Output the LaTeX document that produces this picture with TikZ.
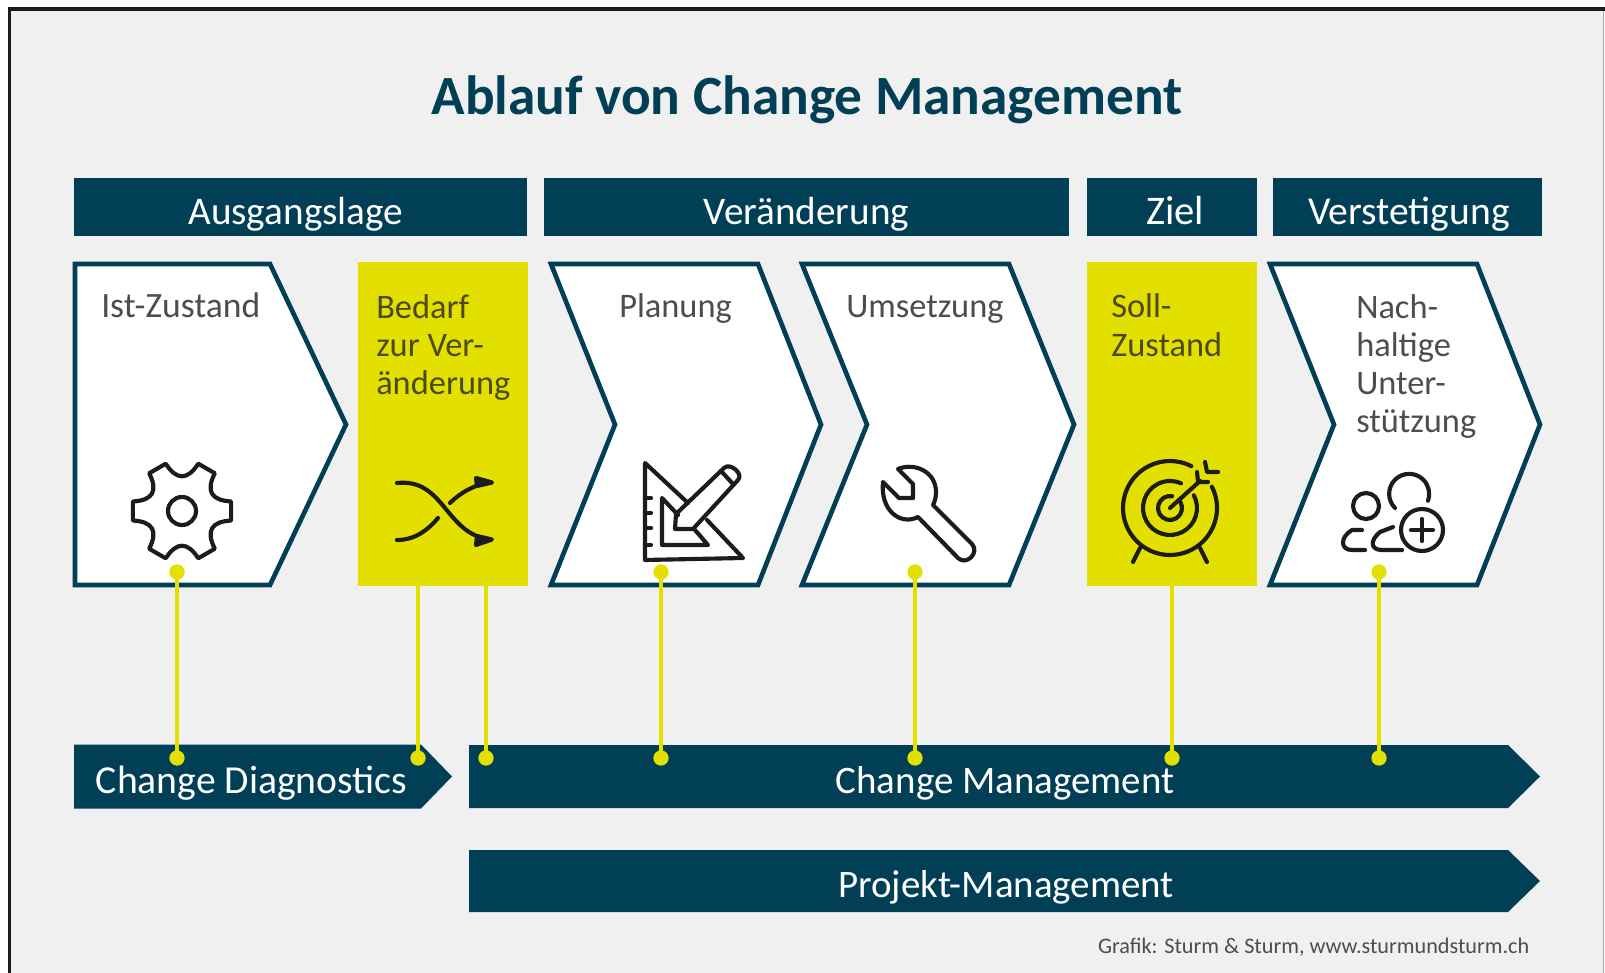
\documentclass[tikz,border=0pt]{standalone}
\usepackage{fontspec}
\setmainfont{Carlito}
\definecolor{navy}{HTML}{003F56}
\definecolor{lime}{HTML}{E3E000}
\definecolor{paper}{HTML}{F0F0F0}
\definecolor{ink}{HTML}{1C1C1C}
\definecolor{graytext}{HTML}{4D4D4D}
\definecolor{oliv}{HTML}{4A4A14}
\tikzset{
  x=0.75pt,y=-0.75pt,
  hdr/.style={fill=navy,text=white,inner sep=0pt,minimum height=43.5pt,text height=26.2pt,text depth=0pt,font=\fontsize{29.4}{29.4}\selectfont},
  chev/.style={draw=navy,fill=white,line width=3.5pt,miter limit=10},
  yel/.style={fill=lime,inner sep=0pt},
  bar/.style={fill=navy},
  lbl/.style={anchor=base west,inner sep=0pt,align=left,text=graytext,font=\fontsize{25.8}{28.5}\selectfont},
  lbly/.style={lbl,text=oliv},
  barlbl/.style={anchor=base,inner sep=0pt,text=white,font=\fontsize{29.2}{29.2}\selectfont},
  dot/.style={circle,fill=lime,inner sep=0pt,minimum size=11.5pt},
  link/.style={draw=lime,line width=2.8pt},
  icon/.style={draw=ink,line width=3.1pt,line cap=round,line join=round},
}
\begin{document}
\begin{tikzpicture}
\useasboundingbox (0,0) rectangle (1605,973);
\fill[white] (0,0) rectangle (1605,973);
\fill[paper] (10,10) rectangle (1603,973);
\fill[ink] (8,7) rectangle (1605,11);
\fill[ink] (8,7) rectangle (11,973);
\fill[gray!70] (1602.5,11) rectangle (1603.5,973);
% title
\node[anchor=base,inner sep=0pt,text=navy,font=\bfseries\fontsize{41.5}{41.5}\selectfont] (title) at (807,114.5) {Ablauf von Change Management};
% headers
\node[hdr,minimum width=339.75pt] (h1) at (300.5,207) {\hspace*{-7pt}Ausgangslage};
\node[hdr,minimum width=393.75pt] (h2) at (806.5,207) {Veränderung};
\node[hdr,minimum width=127.5pt,font=\fontsize{30.5}{30.5}\selectfont] (h3) at (1172,207) {\hspace*{4.5pt}Ziel};
\node[hdr,minimum width=201.75pt,font=\fontsize{29.7}{29.7}\selectfont] (h4) at (1407.5,207) {\hspace*{2pt}Verstetigung};
% process shapes
\draw[chev] (75,264) -- (270,264) -- (346,424.5) -- (270,585) -- (75,585) -- cycle;
\node[yel,minimum width=127.5pt,minimum height=243pt] (b2) at (443,424) {};
\draw[chev] (551,264) -- (758,264) -- (821,424.5) -- (758,585) -- (551,585) -- (615,424.5) -- cycle;
\draw[chev] (802,264) -- (1009,264) -- (1074,424.5) -- (1009,585) -- (802,585) -- (867,424.5) -- cycle;
\node[yel,minimum width=127.5pt,minimum height=243pt] (b6) at (1172,424) {};
\draw[chev] (1270,264) -- (1477,264) -- (1540,424.5) -- (1477,585) -- (1270,585) -- (1334,424.5) -- cycle;
% labels
\node[lbl,font=\fontsize{26.7}{28.5}\selectfont] (t1) at (101,318) {Ist-Zustand};
\node[lbly] (t2) at (376,394) {Bedarf\\zur Ver-\\änderung};
\node[lbl] (t3) at (619,318) {Planung};
\node[lbl] (t4) at (846,318) {Umsetzung};
\node[lbly] (t5) at (1111,356) {Soll-\\Zustand};
\node[lbl] (t6) at (1356,432) {Nach-\\haltige\\Unter-\\stützung};
% bars
\fill[bar] (74,744.5) -- (421,744.5) -- (452,776.5) -- (421,808.5) -- (74,808.5) -- cycle;
\fill[bar] (469,745) -- (1508,745) -- (1540,776.5) -- (1508,808) -- (469,808) -- cycle;
\fill[bar] (469,850) -- (1508,850) -- (1540,881) -- (1508,912) -- (469,912) -- cycle;
\node[barlbl,font=\fontsize{29.75}{29.75}\selectfont] (c1) at (251.5,793) {Change Diagnostics};
\node[barlbl] (c2) at (1005,793) {Change Management};
\node[barlbl] (c3) at (1006,897) {Projekt-Management};
\node[anchor=base east,inner sep=0pt,text=graytext,font=\fontsize{16.65}{16.65}\selectfont] (credit) at (1529.5,953) {Grafik: Sturm \& Sturm, www.sturmundsturm.ch};
% connectors
\node[dot] (a1) at (177,572) {};
\node[dot] (a2) at (661,572) {};
\node[dot] (a3) at (915,572) {};
\node[dot] (a4) at (1379,572) {};
\node[dot] (z1) at (177,758) {};
\node[dot] (z2) at (418,758) {};
\node[dot] (z3) at (486,758) {};
\node[dot] (z4) at (661,758) {};
\node[dot] (z5) at (915,758) {};
\node[dot] (z6) at (1172,758) {};
\node[dot] (z7) at (1379,758) {};
\draw[link] (a1.center) -- (z1.center);
\draw[link] (a2.center) -- (z4.center);
\draw[link] (a3.center) -- (z5.center);
\draw[link] (a4.center) -- (z7.center);
\draw[link] (z2.center |- b2.south) -- (z2.center);
\draw[link] (z3.center |- b2.south) -- (z3.center);
\draw[link] (b6.south) -- (z6.center);
% gear
\begin{scope}[shift={(182,511)}]
\draw[icon] (-11:50) \foreach \a in {0,60,...,300} { -- (\a+11:50) .. controls (\a+20:31) and (\a+40:31) .. (\a+49:50) } -- cycle;
\draw[icon] (0,0) circle[radius=14];
\end{scope}
% shuffle
\draw[icon] (397,483) .. controls (445,478) and (445,535) .. (491,539.5);
\draw[icon] (397,540) .. controls (415,540) and (428,530) .. (438,518);
\draw[icon] (450,503) .. controls (460,493) and (475,484) .. (491,482.5);
\draw[icon,fill=ink] (476,478) -- (492,482.5) -- (477,486) -- cycle;
\draw[icon,fill=ink] (476,545) -- (492,539.5) -- (477,536) -- cycle;
% set square and pencil
\draw[icon] (688,503) -- (645,463) -- (645,560) -- (743,558) -- (707,520);
\draw[icon] (678,515) -- (662,498) -- (662,545) -- (708,545) -- (695,530);
\draw[icon] (645,498) -- (651,498) (645,513) -- (651,513) (645,528) -- (651,528) (645,545) -- (651,545);
\draw[icon] (675,529) -- (676,514) -- (724,468) .. controls (730,462) and (744,474) .. (738,480) -- (693,529) -- cycle;
\draw[icon] (721,471) -- (733,484);
% wrench
\draw[icon] (898,469) .. controls (915,462) and (936,472) .. (936,492) .. controls (936,497) and (935,501) .. (933,505) -- (972,544) .. controls (980,553) and (966,566) .. (958,558) -- (918,517) .. controls (900,526) and (880,510) .. (883,482) -- (899,498) -- (913,498) -- (913,484) -- cycle;
% target
\begin{scope}[shift={(1170,508)}]
\draw[icon] (-27:47) arc[start angle=-27,end angle=297,radius=47];
\draw[icon] (-28:27) arc[start angle=-28,end angle=294,radius=27];
\draw[icon] (-30:12) arc[start angle=-30,end angle=280,radius=12];
\draw[icon] (0,0) -- (30,-27);
\draw[icon] (27,-36) -- (28,-26) -- (38,-26);
\draw[icon] (35,-46) -- (37,-36) -- (48,-36);
\draw[icon] (-30,40) -- (-37,54);
\draw[icon] (30,40) -- (37,54);
\end{scope}
% people plus
\draw[icon] (1366,506) circle[radius=13];
\draw[icon] (1395,508) arc[start angle=135,end angle=380,radius=20];
\draw[icon] (1422,530) circle[radius=21];
\draw[icon] (1422,519) -- (1422,541) (1411,530) -- (1433,530);
\draw[icon] (1362,530) -- (1352,530) .. controls (1340,537) and (1340,550) .. (1352,550) -- (1365,550);
\draw[icon] (1393,527) -- (1380,532) .. controls (1370,540) and (1370,550) .. (1382,550) -- (1402,550);
\end{tikzpicture}
\end{document}
